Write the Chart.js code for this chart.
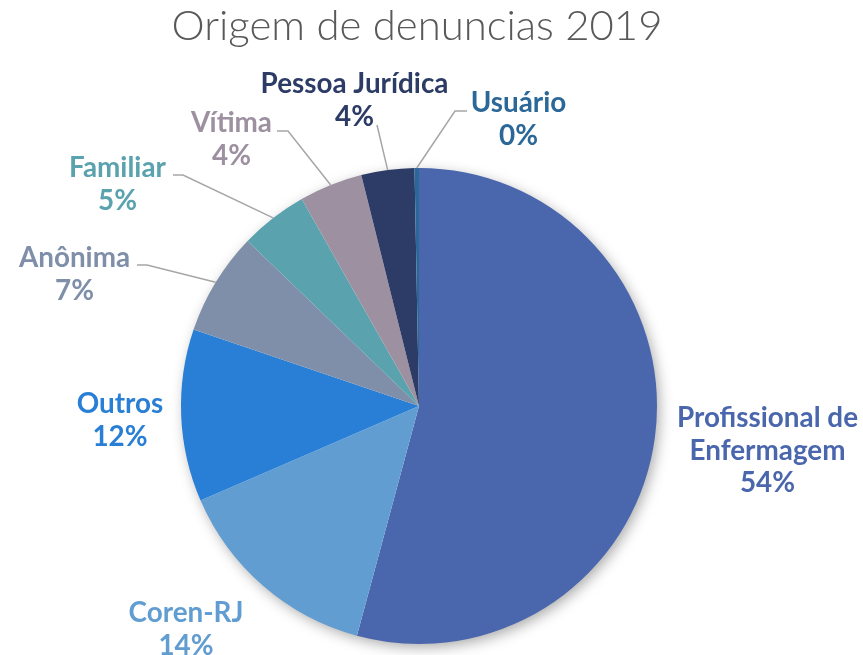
<!DOCTYPE html>
<html>
<head>
<meta charset="utf-8">
<script src="https://cdn.jsdelivr.net/npm/chart.js@4"></script>
<style>
  html, body { margin: 0; padding: 0; background: #ffffff; }
  #wrap { width: 863px; height: 655px; position: relative; }
</style>
</head>
<body>
<div id="wrap"><canvas id="c" width="863" height="655"></canvas></div>
<script>
// ---- data ----
const chartTitle = 'Origem de denuncias 2019';
const categories = ['Profissional de Enfermagem', 'Coren-RJ', 'Outros', 'Anônima', 'Familiar', 'Vítima', 'Pessoa Jurídica', 'Usuário'];
const labelLines = [['Profissional de', 'Enfermagem'], ['Coren-RJ'], ['Outros'], ['Anônima'], ['Familiar'], ['Vítima'], ['Pessoa Jurídica'], ['Usuário']];
const values = [54.2, 14.3, 11.7, 7.0, 4.6, 4.3, 3.6, 0.3];
const sliceColors = ['#4A66AC', '#629DD1', '#297FD5', '#7F8FA9', '#5AA2AE', '#9D90A0', '#2C3C66', '#2B6898'];

// ---- label layout (offsets from pie centre, px) ----
const labelOffsets = [[348.5, 11], [-233, 206], [-299, -3], [-344.5, -149], [-301.5, -239], [-187.5, -284], [-64.5, -323], [99.5, -304]];
// leader lines: [elbow, end] offsets from centre, or null
const leaders = [null, null, null,
  [[-272, -141], [-282, -141]],
  [[-236, -231], [-246, -231]],
  [[-131, -275], [-142, -275]],
  [[-42, -281], [-42, -281]],
  [[36, -295], [48, -295]]];

const LABEL_FONT = '"Lato", "Open Sans", sans-serif';
const TITLE_FONT = '"Lato", "Open Sans", sans-serif';

const shadowPlugin = {
  id: 'pieShadow',
  beforeDatasetsDraw(chart) {
    const arc = chart.getDatasetMeta(0).data[0];
    if (!arc) return;
    const ctx = chart.ctx;
    ctx.save();
    ctx.shadowColor = 'rgba(0,0,0,0.35)';
    ctx.shadowBlur = 14;
    ctx.shadowOffsetX = 3;
    ctx.shadowOffsetY = 4;
    ctx.fillStyle = '#ffffff';
    ctx.beginPath();
    ctx.arc(arc.x, arc.y, arc.outerRadius - 1, 0, Math.PI * 2);
    ctx.fill();
    ctx.restore();
  }
};

const labelPlugin = {
  id: 'pieLabels',
  afterDatasetsDraw(chart) {
    const ctx = chart.ctx;
    const meta = chart.getDatasetMeta(0);
    const total = values.reduce((a, b) => a + b, 0);
    ctx.save();
    // title
    ctx.font = '300 40px ' + TITLE_FONT;
    let w = ctx.measureText(chartTitle).width;
    const tSize = 40 * 491 / w;
    ctx.font = '300 ' + tSize.toFixed(2) + 'px ' + TITLE_FONT;
    ctx.fillStyle = '#595959';
    ctx.textAlign = 'center';
    ctx.textBaseline = 'alphabetic';
    ctx.fillText(chartTitle, 417, 40);

    // label font size fitted to width of "Profissional de"
    ctx.font = 'bold 20px ' + LABEL_FONT;
    w = ctx.measureText(labelLines[0][0]).width;
    const lSize = 20 * 181 / w;
    const font = 'bold ' + lSize.toFixed(2) + 'px ' + LABEL_FONT;
    const lineH = 32.5;

    meta.data.forEach((arc, i) => {
      const cx = arc.x, cy = arc.y;
      // leader line
      if (leaders[i]) {
        const mid = (arc.startAngle + arc.endAngle) / 2;
        const sx = cx + Math.cos(mid) * arc.outerRadius;
        const sy = cy + Math.sin(mid) * arc.outerRadius;
        ctx.strokeStyle = '#A6A6A6';
        ctx.lineWidth = 1.5;
        ctx.beginPath();
        ctx.moveTo(sx, sy);
        ctx.lineTo(cx + leaders[i][0][0], cy + leaders[i][0][1]);
        ctx.lineTo(cx + leaders[i][1][0], cy + leaders[i][1][1]);
        ctx.stroke();
      }
      const pct = Math.round(values[i] / total * 100) + '%';
      const lines = labelLines[i].concat([pct]);
      ctx.font = font;
      ctx.fillStyle = sliceColors[i];
      ctx.textAlign = 'center';
      ctx.textBaseline = 'alphabetic';
      const x = cx + labelOffsets[i][0];
      const y0 = cy + labelOffsets[i][1] + lSize * 0.36;
      lines.forEach((t, k) => ctx.fillText(t, x, y0 + k * lineH));
    });
    ctx.restore();
  }
};

new Chart(document.getElementById('c'), {
  type: 'pie',
  data: {
    labels: categories,
    datasets: [{
      data: values,
      backgroundColor: sliceColors,
      borderWidth: 0
    }]
  },
  options: {
    responsive: false,
    animation: false,
    layout: { padding: { left: 181, right: 206, top: 168, bottom: 11 } },
    plugins: {
      legend: { display: false },
      title: { display: false },
      tooltip: { enabled: false }
    }
  },
  plugins: [shadowPlugin, labelPlugin]
});
</script>
</body>
</html>
